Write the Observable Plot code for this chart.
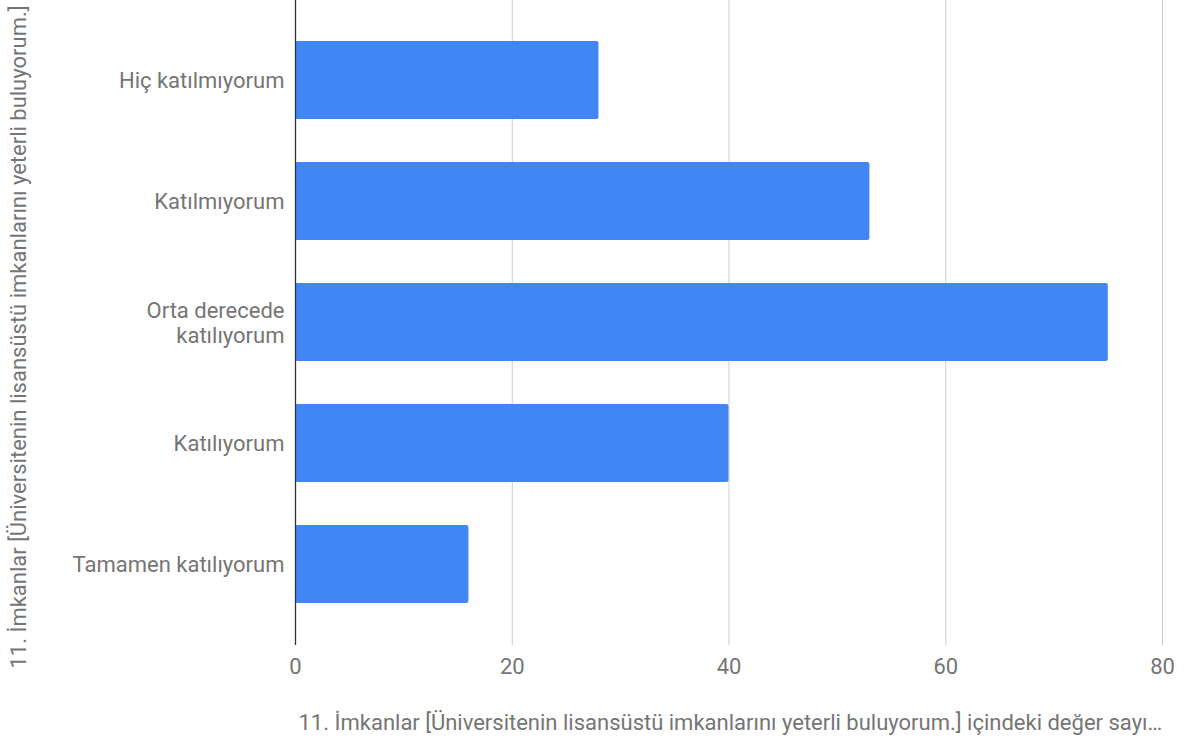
<!DOCTYPE html>
<html>
<head>
<meta charset="utf-8">
<script src="https://cdn.jsdelivr.net/npm/d3@7"></script>
<script src="https://cdn.jsdelivr.net/npm/@observablehq/plot@0.6"></script>
<style>
  html, body { margin: 0; padding: 0; background: #fff; }
  #chart svg { display: block; }
</style>
</head>
<body>
<div id="chart"></div>
<script>
const categories = ["Hiç katılmıyorum", "Katılmıyorum", "Orta derecede katılıyorum", "Katılıyorum", "Tamamen katılıyorum"];
const tickLabels = ["Hiç katılmıyorum", "Katılmıyorum", "Orta derecede\nkatılıyorum", "Katılıyorum", "Tamamen katılıyorum"];
const values = [28, 53, 75, 40, 16];
const xTicks = [0, 20, 40, 60, 80];
const gridTicks = [20, 40, 60, 80];
const xTitle = "11. İmkanlar [Üniversitenin lisansüstü imkanlarını yeterli buluyorum.] içindeki değer sayı…";
const yTitle = "11. İmkanlar [Üniversitenin lisansüstü imkanlarını yeterli buluyorum.]";

const data = categories.map((c, i) => ({category: c, value: values[i]}));
const labelOf = new Map(categories.map((c, i) => [c, tickLabels[i]]));

const chart = Plot.plot({
  width: 1185,
  height: 740,
  marginLeft: 295,
  marginRight: 23,
  marginTop: 0,
  marginBottom: 95,
  style: {fontFamily: "Roboto, sans-serif", fontSize: "22px", color: "#757575", background: "#fff"},
  x: {domain: [0, 80]},
  y: {domain: categories, padding: 0.355, paddingOuter: 0.34},
  marks: [
    Plot.ruleX(gridTicks, {stroke: "#cccccc", strokeWidth: 1}),
    Plot.barX(data, {x: "value", y: "category", fill: "#4285f4", rx: 2}),
    Plot.ruleX([0], {stroke: "#333333", strokeWidth: 1.3}),
    Plot.axisX({ticks: xTicks, tickSize: 0, tickPadding: 13, tickFormat: d => String(d), fill: "#757575", fontSize: 22, label: null}),
    Plot.axisY({tickSize: 0, tickPadding: 11, tickFormat: d => labelOf.get(d), fill: "#757575", fontSize: 22, lineHeight: 1.12, label: null}),
    Plot.text([xTitle], {frameAnchor: "bottom-left", dx: 3, dy: 77, textAnchor: "start", lineAnchor: "middle", fill: "#757575", fontSize: 22}),
    Plot.text([yTitle], {frameAnchor: "left", rotate: -90, dx: -277, dy: 14, textAnchor: "middle", lineAnchor: "middle", fill: "#757575", fontSize: 22})
  ]
});
document.getElementById("chart").appendChild(chart);
</script>
</body>
</html>
